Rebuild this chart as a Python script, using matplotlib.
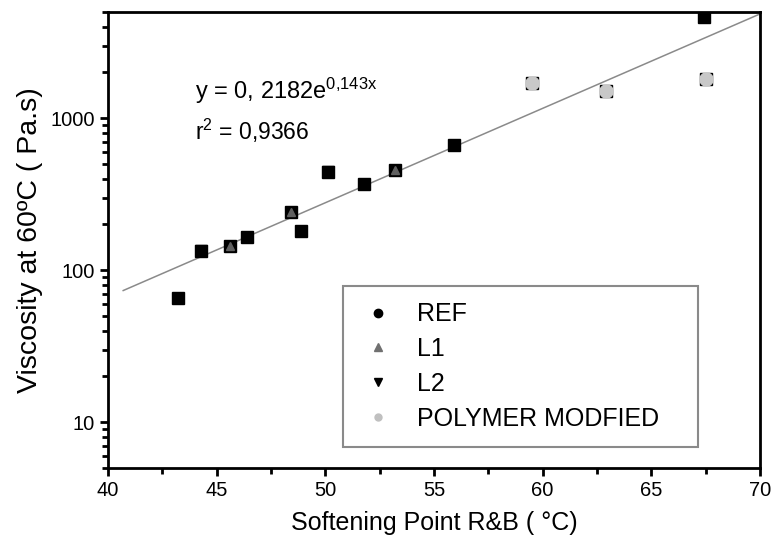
import numpy as np
import matplotlib
matplotlib.use('Agg')
from matplotlib import pyplot as plt
from matplotlib.ticker import FixedLocator, LogLocator, NullFormatter, MultipleLocator

plt.rcParams['font.family'] = ['Liberation Sans', 'DejaVu Sans']
plt.rcParams['mathtext.default'] = 'regular'

# softening point (C) / viscosity (Pa.s) per group
ref_x = [43.2, 46.4, 48.9, 51.8, 55.9, 67.4]
ref_y = [66, 166, 182, 367, 664, 4650]
l1_x = [45.6, 48.4, 53.2]
l1_y = [145, 243, 454]
l2_x = [44.3, 50.1]
l2_y = [134, 441]
pm_x = [59.5, 62.9, 67.5]
pm_y = [1700, 1507, 1808]

# exponential fit shown on the chart
fit_a = 0.2182
fit_b = 0.143
fit_x = np.linspace(40.7, 70, 100)

fig = plt.figure(figsize=(7.73, 5.40), dpi=100)
ax = fig.add_axes([0.1397, 0.1333, 0.8435, 0.8445])

ax.plot(fit_x, fit_a * np.exp(fit_b * fit_x), color='#8a8a8a', lw=1.1, zorder=1)

all_x = ref_x + l1_x + l2_x + pm_x
all_y = ref_y + l1_y + l2_y + pm_y
ax.plot(all_x, all_y, 's', color='black', ms=9, ls='none', zorder=2)
ax.plot(l1_x, l1_y, '^', color='#606060', ms=6, ls='none', zorder=3)
ax.plot(l2_x, l2_y, 'v', color='black', ms=9, ls='none', zorder=3)
ax.plot(pm_x, pm_y, 'o', color='#c8c8c8', ms=9.5, ls='none', zorder=3)

# legend handles
h_ref, = ax.plot([], [], 'o', color='black', ms=6, ls='none')
h_l1, = ax.plot([], [], '^', color='#707070', ms=6, ls='none')
h_l2, = ax.plot([], [], 'v', color='black', ms=6, ls='none')
h_pm, = ax.plot([], [], 'o', color='#c0c0c0', ms=5, ls='none')
leg = ax.legend([h_ref, h_l1, h_l2, h_pm], ['REF', 'L1', 'L2', 'POLYMER MODFIED'],
                loc='upper left', bbox_to_anchor=(0.361, 0.048, 0.544, 0.351),
                mode='expand', fontsize=18, frameon=True, fancybox=False,
                framealpha=1, labelspacing=0.43, handletextpad=0.8,
                borderpad=0.65, handlelength=1.5, borderaxespad=0)
leg.get_frame().set_edgecolor('#8a8a8a')
leg.get_frame().set_linewidth(1.5)

ax.set_yscale('log')
ax.set_xlim(40, 70)
ax.set_ylim(5, 5000)
ax.xaxis.set_major_locator(MultipleLocator(5))
ax.xaxis.set_minor_locator(MultipleLocator(2.5))
ax.yaxis.set_major_locator(FixedLocator([10, 100, 1000]))
ax.yaxis.set_minor_locator(LogLocator(base=10, subs=np.arange(2, 10)))
ax.yaxis.set_minor_formatter(NullFormatter())
ax.set_yticklabels(['10', '100', '1000'])

for s in ax.spines.values():
    s.set_linewidth(2)
ax.tick_params(which='major', direction='out', length=6, width=2, labelsize=14.5)
ax.tick_params(which='minor', direction='out', length=4, width=2)

ax.set_xlabel('Softening Point R&B ( °C)', fontsize=18, labelpad=8)
ax.set_ylabel('Viscosity at 60ºC ( Pa.s)', fontsize=20.5, labelpad=5)

ax.text(0.134, 0.81, r'y = 0, 2182e$^{0{,}143x}$', transform=ax.transAxes, fontsize=17)
ax.text(0.134, 0.72, r'r$^{2}$ = 0,9366', transform=ax.transAxes, fontsize=16.5)

fig.savefig('out.png', dpi=100)
